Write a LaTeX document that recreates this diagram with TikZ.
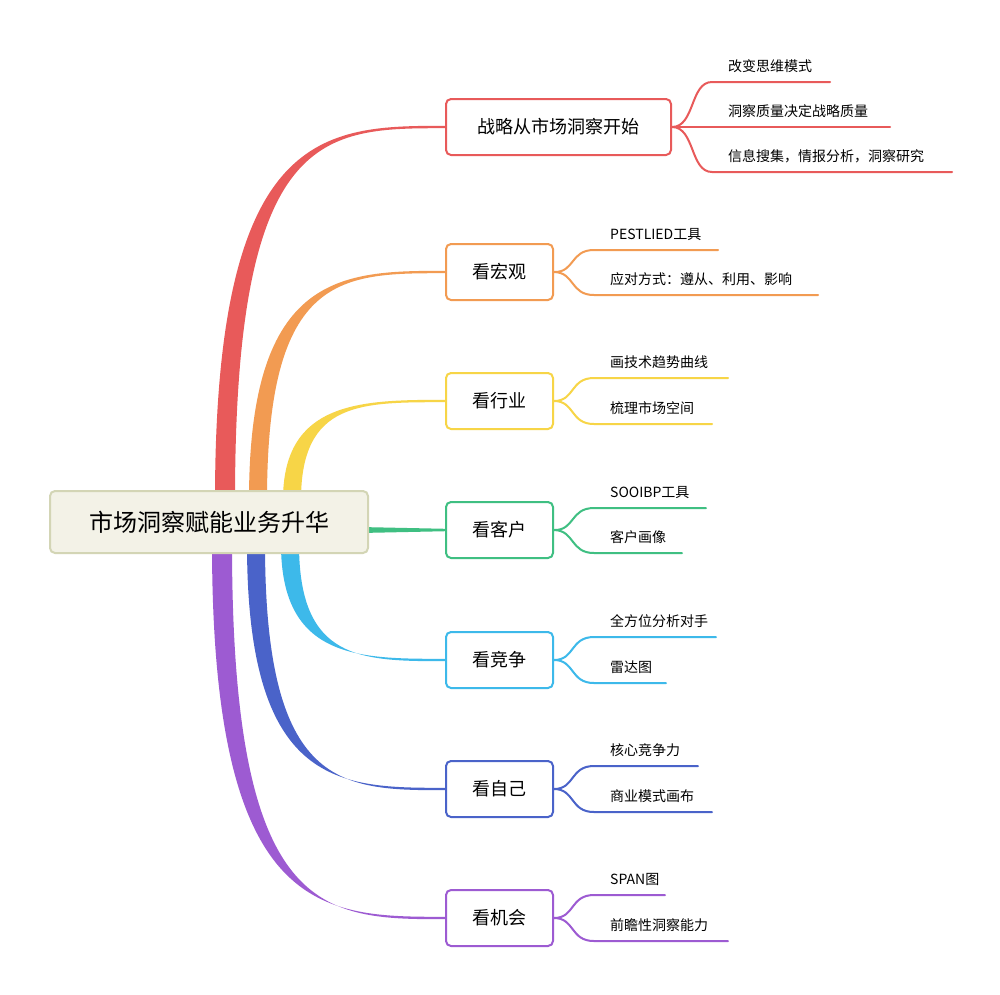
\documentclass[tikz,border=0pt]{standalone}
\usepackage{fontspec}
\setmainfont{Noto Sans CJK SC}
\definecolor{cred}{HTML}{E85A5A}
\definecolor{corange}{HTML}{F29B52}
\definecolor{cyellow}{HTML}{F7D547}
\definecolor{cgreen}{HTML}{3FBF82}
\definecolor{ccyan}{HTML}{3DB9EA}
\definecolor{cblue}{HTML}{4A63C9}
\definecolor{cpurple}{HTML}{9D5BD2}
\definecolor{rootfill}{HTML}{F3F2E7}
\definecolor{rootline}{HTML}{D3D5B5}
\tikzset{
  topic/.style={draw=#1,line width=2pt,rounded corners=5pt,fill=white,minimum height=56pt,font=\fontsize{18}{20}\selectfont,inner xsep=12pt},
  leaf/.style={font=\fontsize{14}{16}\selectfont,anchor=south west,inner sep=2pt},
  sub/.style={draw=#1,line width=2pt,line cap=round},
}
\newcommand{\branchshape}[5]{% color x0 y0 yb w
  \fill[#1] (#2-#5,#3) .. controls (#2-#5,#4) and ({#2+0.45*(445-#2)},#4-1.2) .. (446,#4-1.2)
     -- (446,#4+1.2) .. controls ({#2+0.45*(445-#2)},#4+1.2) and (#2+#5,#4) .. (#2+#5,#3) -- cycle;}
\begin{document}
\begin{tikzpicture}[x=1pt,y=-1pt]
\useasboundingbox (0,0) rectangle (1000,994);
\fill[white] (0,0) rectangle (1000,994);
\branchshape{cred}{225}{500}{127}{10}
\branchshape{corange}{258}{500}{272}{9}
\branchshape{cyellow}{292}{500}{401}{9}
\branchshape{ccyan}{290}{544}{660}{9}
\branchshape{cblue}{256}{544}{789}{9}
\branchshape{cpurple}{222}{544}{918}{10}
\fill[cgreen] (360,527) -- (446,528.8) -- (446,531.2) -- (360,533) -- cycle;
\node[draw=rootline,line width=2pt,rounded corners=5pt,fill=rootfill,minimum width=318pt,minimum height=62pt,font=\fontsize{24}{26}\selectfont] (root) at (209,522) {市场洞察赋能业务升华};
% topics
\node[topic=cred,anchor=west,minimum width=225pt] (t1) at (445,127) {战略从市场洞察开始};
\node[topic=corange,anchor=west,minimum width=107pt] (t2) at (445,272) {看宏观};
\node[topic=cyellow,anchor=west,minimum width=107pt] (t3) at (445,401) {看行业};
\node[topic=cgreen,anchor=west,minimum width=107pt] (t4) at (445,530) {看客户};
\node[topic=ccyan,anchor=west,minimum width=107pt] (t5) at (445,660) {看竞争};
\node[topic=cblue,anchor=west,minimum width=107pt] (t6) at (445,789) {看自己};
\node[topic=cpurple,anchor=west,minimum width=107pt] (t7) at (445,918) {看机会};
% red leaves
\node[leaf] (l11) at (726,75) {改变思维模式};
\node[leaf] (l12) at (726,120) {洞察质量决定战略质量};
\node[leaf] (l13) at (726,165) {信息搜集，情报分析，洞察研究};
\coordinate (e11) at (830,82); \coordinate (e12) at (890,127); \coordinate (e13) at (952,172);
\draw[sub=cred] (t1.east) .. controls (695,127) and (690,82) .. (712,82) -- (e11);
\draw[sub=cred] (t1.east) -- (e12);
\draw[sub=cred] (t1.east) .. controls (695,127) and (690,172) .. (712,172) -- (e13);
% generic two-leaf
\newcommand{\twoleaf}[8]{% node color yu1 end1 text1 yu2 end2 text2
  \node[leaf] (#1a) at (608,#3-7) {#5};
  \node[leaf] (#1b) at (608,#6-7) {#8};
  \coordinate (#1ea) at (#4,#3); \coordinate (#1eb) at (#7,#6);
  \draw[sub=#2] (#1.east) .. controls (575,{(#3+#6)/2}) and (570,#3) .. (594,#3) -- (#1ea);
  \draw[sub=#2] (#1.east) .. controls (575,{(#3+#6)/2}) and (570,#6) .. (594,#6) -- (#1eb);}
\twoleaf{t2}{corange}{250}{718}{PESTLIED工具}{295}{818}{应对方式：遵从、利用、影响}
\twoleaf{t3}{cyellow}{378}{728}{画技术趋势曲线}{424}{712}{梳理市场空间}
\twoleaf{t4}{cgreen}{508}{706}{SOOIBP工具}{553}{682}{客户画像}
\twoleaf{t5}{ccyan}{637}{716}{全方位分析对手}{683}{666}{雷达图}
\twoleaf{t6}{cblue}{766}{698}{核心竞争力}{812}{712}{商业模式画布}
\twoleaf{t7}{cpurple}{895}{665}{SPAN图}{941}{728}{前瞻性洞察能力}
\end{tikzpicture}
\end{document}
